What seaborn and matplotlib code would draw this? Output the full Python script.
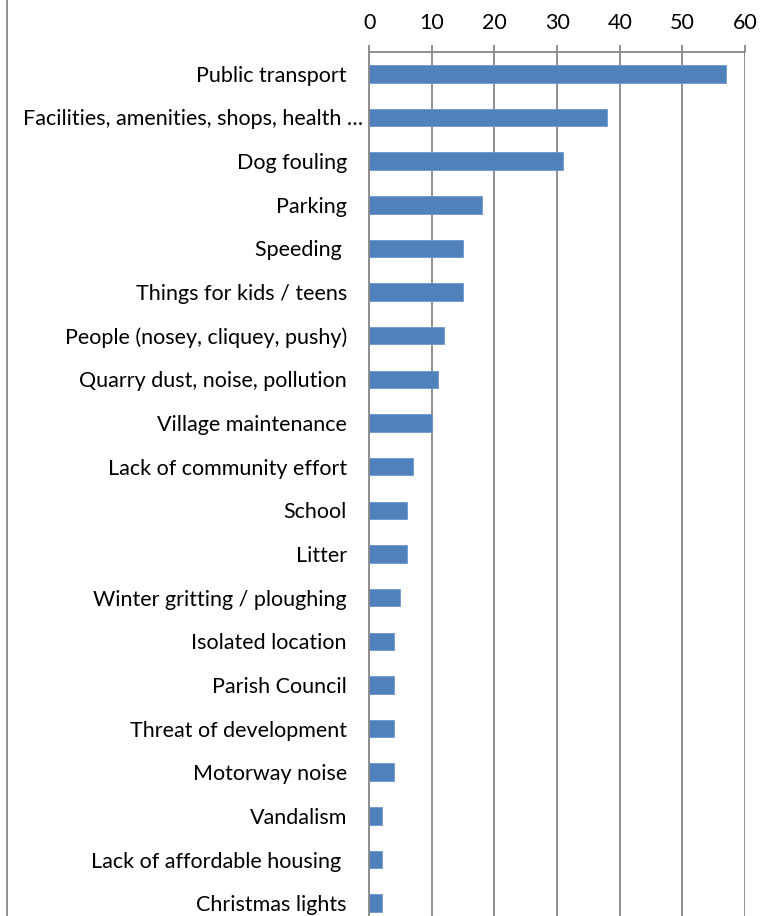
import matplotlib
matplotlib.use("Agg")
import matplotlib.pyplot as plt
import matplotlib.transforms as mtransforms
from matplotlib.lines import Line2D
from matplotlib.ticker import FixedLocator, MultipleLocator
import pandas as pd
import seaborn as sns

# values
categories = [
    "Public transport",
    "Facilities, amenities, shops, health \u2026",
    "Dog fouling",
    "Parking",
    "Speeding ",
    "Things for kids / teens",
    "People (nosey, cliquey, pushy)",
    "Quarry dust, noise, pollution",
    "Village maintenance",
    "Lack of community effort",
    "School",
    "Litter",
    "Winter gritting / ploughing",
    "Isolated location",
    "Parish Council",
    "Threat of development",
    "Motorway noise",
    "Vandalism",
    "Lack of affordable housing ",
    "Christmas lights",
]
counts = [57, 38, 31, 18, 15, 15, 12, 11, 10, 7, 6, 6, 5, 4, 4, 4, 4, 2, 2, 2]
x_ticks = [0, 10, 20, 30, 40, 50, 60]

df = pd.DataFrame({"issue": categories, "count": counts})

sns.set_style("white")
plt.rcParams["font.family"] = ["Lato", "DejaVu Sans"]

fig = plt.figure(figsize=(7.61, 9.16), dpi=100)
ax = fig.add_axes([0.485, -0.0098, 0.494, 0.953])

sns.barplot(data=df, x="count", y="issue", orient="h", color="#4F81BD",
            width=0.4, saturation=1, edgecolor="#6F98CC", linewidth=0.6, ax=ax)

grid_col = "#888888"
ax.set_xlim(0, 60)
ax.set_ylim(len(categories) - 0.5, -0.5)
ax.xaxis.set_major_locator(FixedLocator(x_ticks))
ax.xaxis.tick_top()
ax.grid(axis="x", color=grid_col, linewidth=1.3)
ax.set_axisbelow(True)
ax.tick_params(axis="x", direction="out", length=5, width=1.3, color=grid_col,
               labelsize=15.5, pad=9, labelcolor="black")

# category boundary ticks on the value axis side
ax.yaxis.set_minor_locator(MultipleLocator(1, offset=0.5))
ax.tick_params(axis="y", which="major", length=0, pad=16, labelsize=15.5, labelcolor="black")
ax.tick_params(axis="y", which="minor", direction="out", length=5, width=1.3, color=grid_col)

for side in ["right", "bottom"]:
    ax.spines[side].set_visible(False)
for side in ["top", "left"]:
    ax.spines[side].set_color(grid_col)
    ax.spines[side].set_linewidth(1.3)

ax.set_xlabel("")
ax.set_ylabel("")

# truncated label sits closer to the axis in the original
offset = mtransforms.ScaledTranslation(16 / 100, 0, fig.dpi_scale_trans)
for lbl in ax.get_yticklabels():
    if lbl.get_text().startswith("Facilities"):
        lbl.set_transform(lbl.get_transform() + offset)

# outer chart border on the left
fig.add_artist(Line2D([0.009, 0.009], [0, 1], transform=fig.transFigure,
                      color=grid_col, linewidth=1.3))

fig.savefig("out.png", dpi=100)
